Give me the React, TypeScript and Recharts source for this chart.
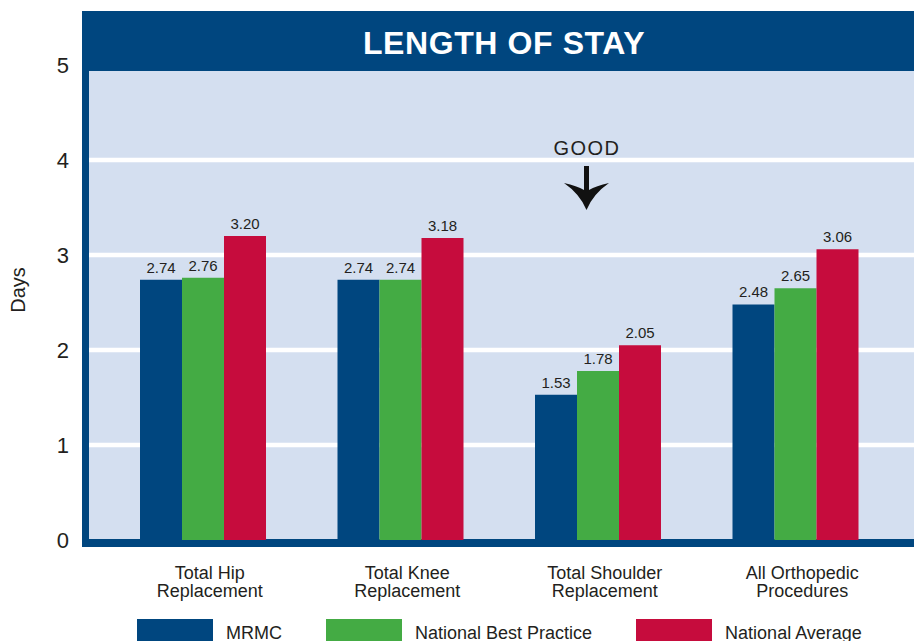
import React from 'react';
import { BarChart, Bar, XAxis, YAxis, CartesianGrid, LabelList, Legend } from 'recharts';

const categories = [
  'Total Hip Replacement',
  'Total Knee Replacement',
  'Total Shoulder Replacement',
  'All Orthopedic Procedures',
];
const categoryLines = [
  ['Total Hip', 'Replacement'],
  ['Total Knee', 'Replacement'],
  ['Total Shoulder', 'Replacement'],
  ['All Orthopedic', 'Procedures'],
];
const mrmc = [2.74, 2.74, 1.53, 2.48];
const bestPractice = [2.76, 2.74, 1.78, 2.65];
const nationalAverage = [3.2, 3.18, 2.05, 3.06];
const yTicks = [0, 1, 2, 3, 4, 5];
const gridValues = [1, 2, 3, 4];
const seriesNames = ['MRMC', 'National Best Practice', 'National Average'];

const NAVY = '#00467f';
const GREEN = '#44ab44';
const RED = '#c60c3d';
const LIGHT = '#d4dff0';
const TEXT = '#231f20';
const FONT = '"Liberation Sans", Arial, sans-serif';
const seriesColors = [NAVY, GREEN, RED];

const data = categories.map((c, i) => ({
  category: c,
  mrmc: mrmc[i],
  best: bestPractice[i],
  avg: nationalAverage[i],
}));

const XTick = (props: any) => {
  const { x, y, payload } = props;
  const idx = categories.indexOf(payload.value);
  const lines = idx >= 0 ? categoryLines[idx] : [String(payload.value)];
  return (
    <g>
      <text x={x + 7} y={y} textAnchor="middle" fontSize={18} fill={TEXT} fontFamily={FONT}>
        {lines.map((l, i) => (
          <tspan key={i} x={x + 7} dy={i === 0 ? 39 : 18}>
            {l}
          </tspan>
        ))}
      </text>
    </g>
  );
};

const LegendContent = () => {
  return (
    <div style={{ display: 'flex', gap: 44, fontFamily: FONT }}>
      {seriesNames.map((name, i) => (
        <div key={name} style={{ display: 'flex', alignItems: 'flex-start' }}>
          <div style={{ width: 76, height: 26, background: seriesColors[i] }} />
          <span style={{ marginLeft: 13, marginTop: 4, fontSize: 18, lineHeight: '20px', color: TEXT }}>
            {name}
          </span>
        </div>
      ))}
    </div>
  );
};

const fmt = (v: any) => Number(v).toFixed(2);

export default function App() {
  return (
    <div style={{ position: 'absolute', left: 0, top: 0, width: 914, height: 641, background: '#fff', overflow: 'hidden' }}>
      <div style={{ position: 'absolute', left: 82, top: 11, width: 832, height: 536, background: NAVY }} />
      <div style={{ position: 'absolute', left: 89, top: 71, width: 825, height: 468, background: LIGHT }} />
      <div style={{ position: 'absolute', left: 0, top: 0 }}>
        <BarChart
          width={914}
          height={641}
          data={data}
          margin={{ top: 65, right: 0, bottom: 41, left: 0 }}
          barGap={0}
          barCategoryGap={36}
        >
          <CartesianGrid vertical={false} horizontalValues={gridValues} stroke="#ffffff" strokeWidth={4.5} />
          <XAxis
            dataKey="category"
            axisLine={false}
            tickLine={false}
            tickSize={0}
            tickMargin={0}
            height={60}
            padding={{ left: 15, right: 20 }}
            tick={<XTick />}
            interval={0}
          />
          <YAxis
            domain={[0, 5]}
            ticks={yTicks}
            width={89}
            axisLine={false}
            tickLine={false}
            tickSize={0}
            tickMargin={20}
            tick={{ fill: TEXT, fontSize: 22, fontFamily: FONT }}
            interval={0}
          />
          <Legend
            layout="horizontal"
            verticalAlign="middle"
            align="center"
            content={LegendContent}
            wrapperStyle={{ left: 137, top: 619, width: 777, height: 22 }}
          />
          <Bar dataKey="mrmc" name={seriesNames[0]} fill={NAVY} isAnimationActive={false}>
            <LabelList dataKey="mrmc" position="top" offset={7} formatter={fmt} fill={TEXT} fontSize={15} fontFamily={FONT} />
          </Bar>
          <Bar dataKey="best" name={seriesNames[1]} fill={GREEN} isAnimationActive={false}>
            <LabelList dataKey="best" position="top" offset={7} formatter={fmt} fill={TEXT} fontSize={15} fontFamily={FONT} />
          </Bar>
          <Bar dataKey="avg" name={seriesNames[2]} fill={RED} isAnimationActive={false}>
            <LabelList dataKey="avg" position="top" offset={7} formatter={fmt} fill={TEXT} fontSize={15} fontFamily={FONT} />
          </Bar>
        </BarChart>
      </div>
      <svg
        width={914}
        height={641}
        style={{ position: 'absolute', left: 0, top: 0, pointerEvents: 'none' }}
      >
        <text x={504} y={54} textAnchor="middle" fill="#ffffff" fontFamily={FONT} fontWeight="bold" fontSize={32} letterSpacing={0.6}>
          LENGTH OF STAY
        </text>
        <text x={25} y={290} textAnchor="middle" fill={TEXT} fontFamily={FONT} fontSize={20} transform="rotate(-90 25 290)">
          Days
        </text>
        <text x={587} y={155} textAnchor="middle" fill={TEXT} fontFamily={FONT} fontSize={20} letterSpacing={1.5}>
          GOOD
        </text>
        <path
          d="M586.5,210 Q580,194 564,183 Q577,186 584,190 L584,166 L589,166 L589,190 Q596,186 609,183 Q593,194 586.5,210 Z"
          fill="#111"
        />
      </svg>
    </div>
  );
}
